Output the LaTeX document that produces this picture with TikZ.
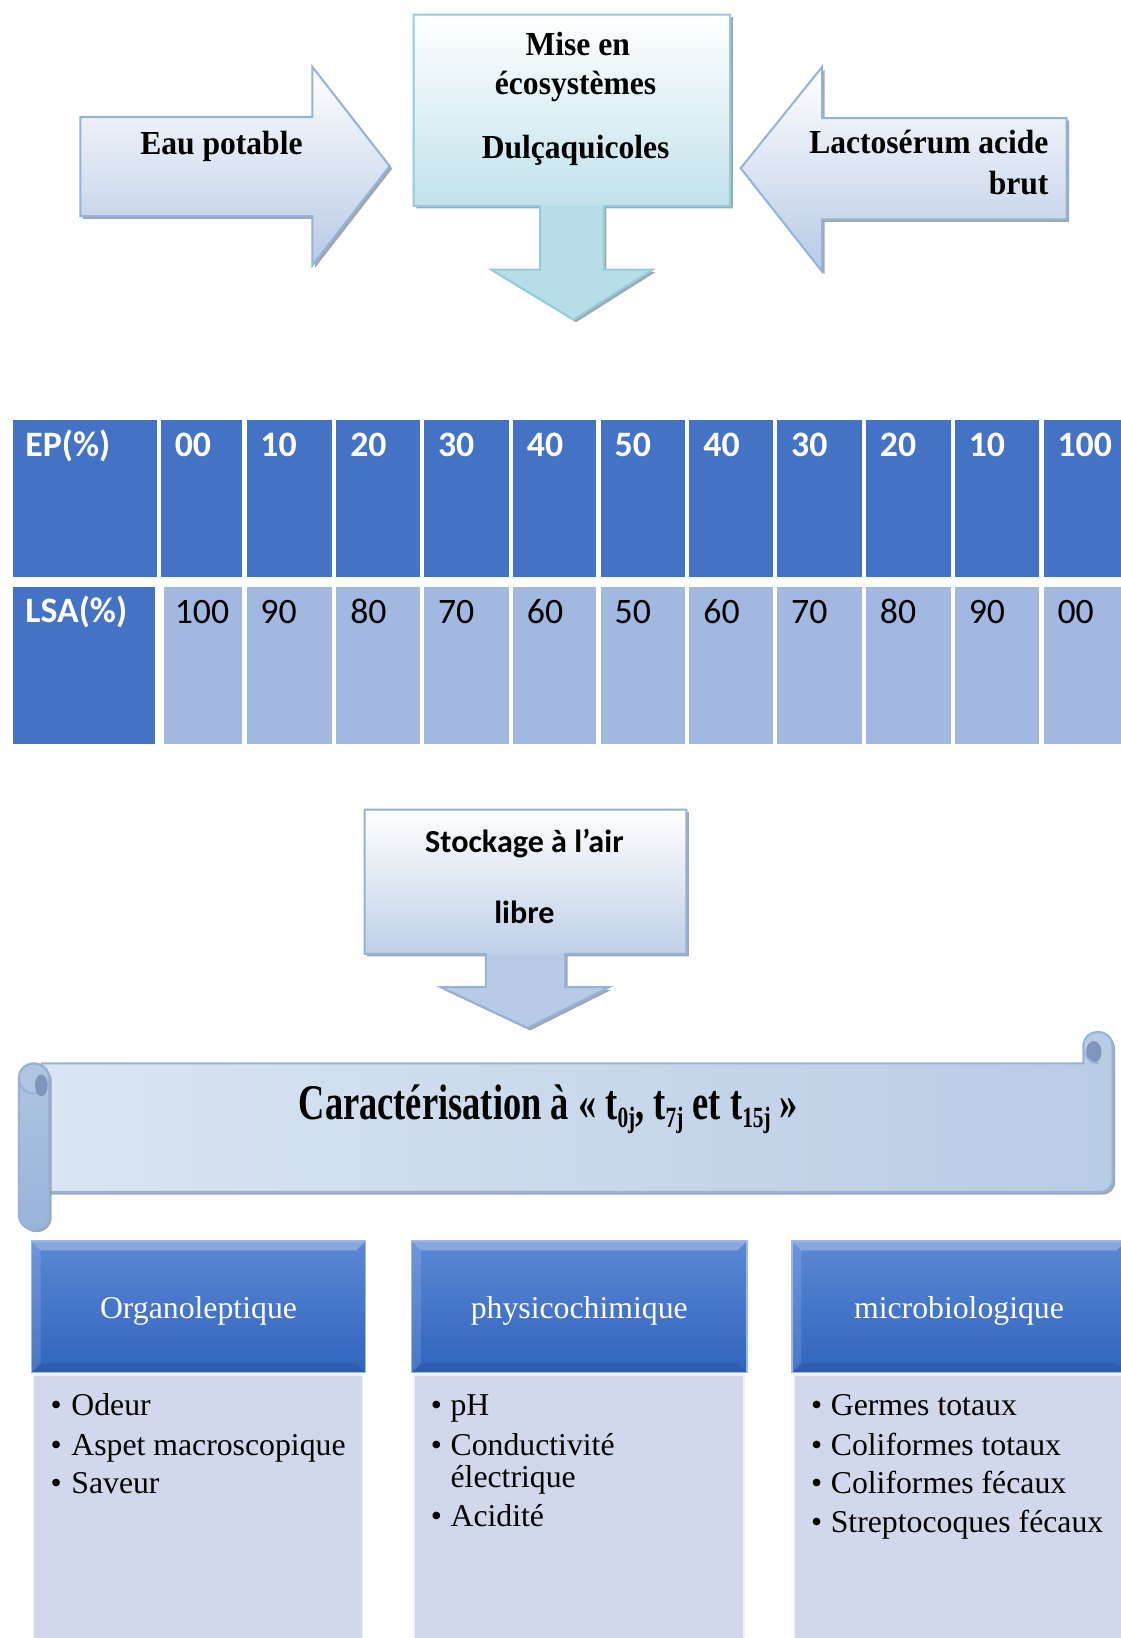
\documentclass[tikz,border=0pt]{standalone}
\usepackage{fontspec}
\setmainfont{Liberation Serif}
\newfontfamily\tnrc[FakeStretch=0.94]{Liberation Serif}
\newfontfamily\tnrh[FakeStretch=0.73]{Liberation Serif}
\newfontfamily\calib{Carlito}
\usetikzlibrary{shadows}
\definecolor{arrowbord}{HTML}{95B3D7}
\definecolor{arrowbot}{HTML}{B8CAE5}
\definecolor{cyanbord}{HTML}{92CDDC}
\definecolor{cyanbot}{HTML}{B7DDE8}
\definecolor{shadowc}{HTML}{8E98A8}
\definecolor{darkcell}{HTML}{4472C4}
\definecolor{lightcell}{HTML}{A2B8E1}
\definecolor{headtop}{HTML}{5C88D4}
\definecolor{headbot}{HTML}{3064BD}
\definecolor{bodyc}{HTML}{D1D8EB}
\definecolor{scrollA}{HTML}{DAE5F1}
\definecolor{scrollB}{HTML}{B9CCE5}
\definecolor{rollA}{HTML}{AFC5E2}
\definecolor{rollB}{HTML}{98B4DA}
\definecolor{curlc}{HTML}{7F96BA}
\newcommand\ftop{\tnrc\bfseries\fontsize{18.3}{21}\selectfont}
\newcommand\fhd{\tnrh\bfseries\fontsize{27.2}{30}\selectfont}
\newcommand\fbul{\rmfamily\fontsize{17.3}{20}\selectfont}
\newcommand\fcal{\calib\bfseries\fontsize{17.5}{20}\selectfont}
\newcommand\ftab{\calib\fontsize{19.5}{22}\selectfont}
\newcommand\sbs[1]{\raisebox{-0.35ex}{\fontsize{16}{16}\selectfont #1}}
\begin{document}
\begin{tikzpicture}[x=0.02cm,y=-0.02cm,
  shd/.style={drop shadow={shadow xshift=1.4pt,shadow yshift=-1.4pt,fill=shadowc,opacity=0.85}},
  bluearrow/.style={shd,draw=arrowbord,line width=1.1pt,top color=white,bottom color=arrowbot},
  txt/.style={inner sep=0pt,anchor=base},
  ltxt/.style={inner sep=0pt,anchor=base west},
  bord/.style={line width=1.1pt}]
\useasboundingbox (0,0) rectangle (1073,1568);

% ---------- top: Eau potable arrow
\path[bluearrow] (77,112) -- (299,112) -- (299,64) -- (373,159) -- (299,254) -- (299,207) -- (77,207) -- cycle;
\node[txt] (eau) at (212,148) {\ftop Eau potable};

% ---------- Lactoserum arrow
\path[bluearrow] (1021,113) -- (787,113) -- (787,64) -- (709,161) -- (787,260) -- (787,210) -- (1021,210) -- cycle;
\node[inner sep=0pt,anchor=base east] (lac1) at (1004,147) {\ftop\hbox to 4.58cm{Lactosérum\hfill acide}};
\node[inner sep=0pt,anchor=base east] (lac2) at (1004,186) {\ftop brut};

% ---------- Mise en ecosystemes callout
\path[shd,fill=cyanbot] (396,14) -- (699,14) -- (699,197) -- (578,197) -- (578,258) -- (625,258) -- (549,306) -- (470,258) -- (517,258) -- (517,197) -- (396,197) -- cycle;
\shade[top color=white,bottom color=cyanbot!85] (396,14) rectangle (699,197);
\draw[bord,cyanbord] (396,14) -- (699,14) -- (699,197) -- (578,197) -- (578,258) -- (625,258) -- (549,306) -- (470,258) -- (517,258) -- (517,197) -- (396,197) -- cycle;
\node[txt] (mise1) at (553,53) {\ftop Mise en};
\node[txt] (mise2) at (551,90) {\ftop écosystèmes};
\node[txt] (mise3) at (551,152) {\ftop Dulçaquicoles};

% ---------- table
\fill[darkcell] (12,402) rectangle (150,552);
\fill[darkcell] (12,562) rectangle (148,712);
\node[ltxt,text=white] (ephead) at (24,437) {\ftab\bfseries EP(\%)};
\node[ltxt,text=white] (lsahead) at (24,596) {\ftab\bfseries LSA(\%)};
\foreach \l/\m/\r/\a/\b [count=\i] in {154/157/232/00/100,236/236/318/10/90,322/322/402/20/80,406/406/487/30/70,491/491/571/40/60,575/575/656/50/50,660/660/740/40/60,744/744/825/30/70,829/829/910/20/80,914/914/995/10/90,999/999/1073/100/00}{
  \fill[darkcell] (\l,402) rectangle (\r,552);
  \fill[lightcell] (\m,562) rectangle (\r,712);
  \node[ltxt,text=white] (ep\i) at (\l+13,437) {\ftab\bfseries \a};
  \node[ltxt,text=black] (lsa\i) at (\l+13,597) {\ftab \b};
}

% ---------- Stockage callout
\path[shd,fill=arrowbot] (349,775) -- (657,775) -- (657,913) -- (541,913) -- (541,945) -- (583,945) -- (505,984) -- (422,945) -- (465,945) -- (465,913) -- (349,913) -- cycle;
\shade[top color=white,bottom color=arrowbot!90] (349,775) rectangle (657,913);
\draw[bord,arrowbord] (349,775) -- (657,775) -- (657,913) -- (541,913) -- (541,945) -- (583,945) -- (505,984) -- (422,945) -- (465,945) -- (465,913) -- (349,913) -- cycle;
\node[txt] (stock1) at (502,816) {\fcal Stockage à l’air};
\node[txt] (stock2) at (502,884) {\fcal libre};

% ---------- scroll banner
\path[shd,draw=arrowbord,line width=1.1pt,left color=scrollA,right color=scrollB]
  (40,1018) -- (1037,1018) -- (1037,1002) .. controls (1037,983) and (1065,983) .. (1065,1002)
  -- (1065,1129) .. controls (1065,1136) and (1060,1141) .. (1053,1141) -- (40,1141) -- cycle;
\fill[curlc] (1047,1007) ellipse [x radius=4.2pt,y radius=6pt];
\draw[arrowbord,line width=0.8pt] (1037,1002) .. controls (1037,1012) and (1045,1018) .. (1052,1018);
\path[shd,draw=arrowbord,line width=1.1pt,rounded corners=8pt,top color=rollA,bottom color=rollB] (18,1018) rectangle (47,1177);
\draw[arrowbord,line width=1.1pt,fill=rollA] (32.5,1032.5) circle [radius=8.2pt];
\fill[curlc] (39.5,1039) ellipse [x radius=3.4pt,y radius=6pt];
\node[txt] (carac) at (525,1072) {\fhd Caractérisation à « t\sbs{0j}, t\sbs{7j} et t\sbs{15j} »};

% ---------- three category boxes
\foreach \x/\w/\t [count=\i] in {30/320/Organoleptique,394/321/physicochimique,758/320/microbiologique}{
  \fill[bodyc] (\x+2,1316) rectangle (\x+\w-3,1570);
  \draw[white!70!bodyc,line width=1pt] (\x+2,1570) -- (\x+2,1316) -- (\x+\w-3,1316) -- (\x+\w-3,1570);
  \shade[top color=headtop,bottom color=headbot] (\x,1188) rectangle (\x+\w,1314);
  \fill[white,opacity=0.28] (\x,1188) -- (\x+\w,1188) -- (\x+\w-9,1197) -- (\x+9,1197) -- cycle;
  \fill[white,opacity=0.12] (\x,1188) -- (\x+9,1197) -- (\x+9,1305) -- (\x,1314) -- cycle;
  \fill[black,opacity=0.08] (\x,1314) -- (\x+9,1305) -- (\x+\w-9,1305) -- (\x+\w,1314) -- cycle;
  \draw[white!40!headtop,line width=0.8pt] (\x,1188) rectangle (\x+\w,1314);
  \node[txt,text=white] (head\i) at (\x+\w/2,1262) {\fbul \t};
}
\node[ltxt] (o1) at (48,1355) {\fbul\makebox[0.4cm][l]{•}Odeur};
\node[ltxt] (o2) at (48,1393) {\fbul\makebox[0.4cm][l]{•}Aspet macroscopique};
\node[ltxt] (o3) at (48,1430) {\fbul\makebox[0.4cm][l]{•}Saveur};
\node[ltxt] (p1) at (412,1355) {\fbul\makebox[0.38cm][l]{•}pH};
\node[ltxt] (p2) at (412,1393) {\fbul\makebox[0.38cm][l]{•}Conductivité};
\node[ltxt] (p2b) at (431,1424) {\fbul électrique};
\node[ltxt] (p3) at (412,1461) {\fbul\makebox[0.38cm][l]{•}Acidité};
\node[ltxt] (m1) at (776,1355) {\fbul\makebox[0.38cm][l]{•}Germes totaux};
\node[ltxt] (m2) at (776,1393) {\fbul\makebox[0.38cm][l]{•}Coliformes totaux};
\node[ltxt] (m3) at (776,1430) {\fbul\makebox[0.38cm][l]{•}Coliformes fécaux};
\node[ltxt] (m4) at (776,1467) {\fbul\makebox[0.38cm][l]{•}Streptocoques fécaux};
\end{tikzpicture}
\end{document}
